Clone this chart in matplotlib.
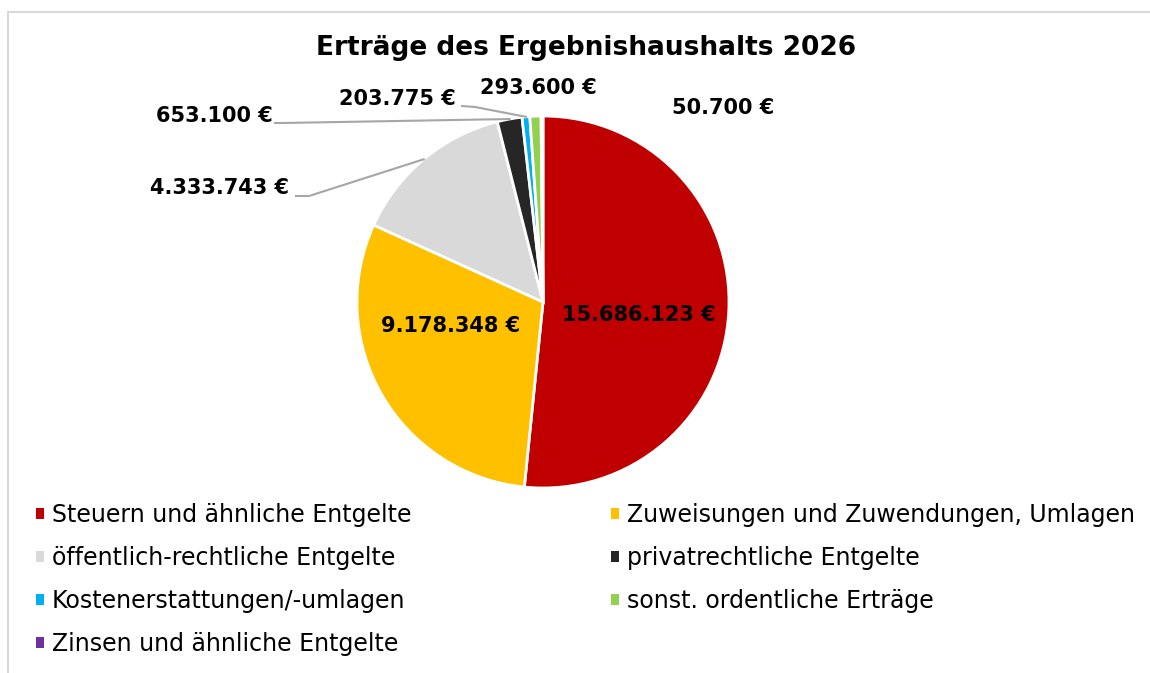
import matplotlib.pyplot as plt
import numpy as np
from matplotlib.patches import Patch

categories = ['Steuern und ähnliche Entgelte', 'Zuweisungen und Zuwendungen, Umlagen',
              'öffentlich-rechtliche Entgelte', 'privatrechtliche Entgelte',
              'Kostenerstattungen/-umlagen', 'sonst. ordentliche Erträge',
              'Zinsen und ähnliche Entgelte']
values = [15686123, 9178348, 4333743, 653100, 203775, 293600, 50700]
colors = ['#c00000', '#ffc000', '#d9d9d9', '#262626', '#00b0f0', '#92d050', '#7030a0']


def fmt(v):
    return f'{v:,.0f} €'.replace(',', '.')


W, H = 1150, 673
fig = plt.figure(figsize=(W / 100, H / 100), dpi=100)
ax = fig.add_axes([0, 0, 1, 1])

# pixel coords, y measured from the top
def py(y):
    return H - y

wedges, _ = ax.pie(values, colors=colors, startangle=90, counterclock=False,
                   center=(543, py(302)), radius=186, frame=True,
                   wedgeprops=dict(edgecolor='white', linewidth=2))
ax.set_xlim(0, W)
ax.set_ylim(0, H)
ax.axis('off')


def edge_point(w, r=1.0):
    a = np.deg2rad((w.theta1 + w.theta2) / 2)
    return w.center[0] + w.r * r * np.cos(a), w.center[1] + w.r * r * np.sin(a)


# label positions (text centre) and leader line start points
lab_pos = [(639, 315), (451, 326), (219, 188), (214, 116), (397, 99), (538, 88), (723, 108)]
lead = {2: [(296, 196), (309, 196)], 3: [(275, 123), (282, 123)], 4: [(462, 106), (475, 107)]}

for i, v in enumerate(values):
    x, y = lab_pos[i]
    ax.text(x, py(y), fmt(v), ha='center', va='center', fontsize=15,
            fontweight='bold', color='black')
    if i in lead:
        ex, ey = edge_point(wedges[i])
        xs = [p[0] for p in lead[i]] + [ex]
        ys = [py(p[1]) for p in lead[i]] + [ey]
        ax.plot(xs, ys, color='#a6a6a6', lw=1.5)

# chart frame
ax.plot([8, 8], [py(12), -20], color='#d9d9d9', lw=1.5, clip_on=False)
ax.plot([8, W + 20], [py(12), py(12)], color='#d9d9d9', lw=1.5, clip_on=False)

fig.text(586 / W, 1 - 48 / H, 'Erträge des Ergebnishaushalts 2026', ha='center', va='center',
         fontsize=19, fontweight='bold')

handles = [Patch(facecolor=c, edgecolor='none') for c in colors]
leg_kw = dict(frameon=False, fontsize=17, handlelength=0.32, handleheight=0.32,
              handletextpad=0.36, labelspacing=0.8, borderpad=0, borderaxespad=0,
              loc='upper left')
col1 = [0, 2, 4, 6]
col2 = [1, 3, 5]
fig.legend([handles[i] for i in col1], [categories[i] for i in col1],
           bbox_to_anchor=(36 / W, 1 - 503 / H), **leg_kw)
fig.legend([handles[i] for i in col2], [categories[i] for i in col2],
           bbox_to_anchor=(611 / W, 1 - 503 / H), **leg_kw)

fig.savefig('out.png', dpi=100)
